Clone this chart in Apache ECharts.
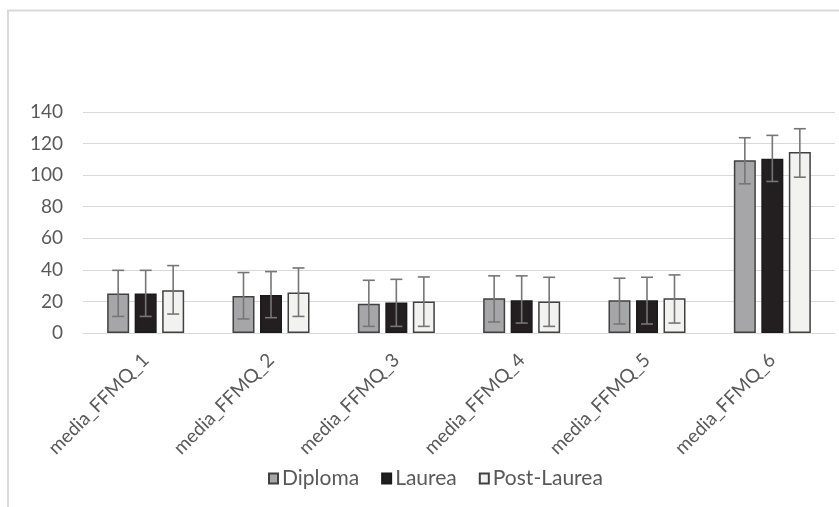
<!DOCTYPE html>
<html><head><meta charset="utf-8">
<script src="https://cdn.jsdelivr.net/npm/echarts@6/dist/echarts.min.js"></script>
<style>html,body{margin:0;padding:0;background:#fff}#c{width:839px;height:507px}</style>
</head><body><div id="c"></div>
<script>
const categories = ['media_FFMQ_1','media_FFMQ_2','media_FFMQ_3','media_FFMQ_4','media_FFMQ_5','media_FFMQ_6'];
const seriesNames = ['Diploma','Laurea','Post-Laurea'];
const diploma = [25.0, 23.5, 18.6, 22.0, 20.7, 109.5];
const laurea = [25.0, 24.1, 19.4, 20.7, 20.7, 110.4];
const postLaurea = [27.1, 25.6, 19.9, 19.9, 22.0, 114.6];
const diplomaErrLow = [10.5, 8.9, 4.2, 7.0, 5.7, 94.5];
const diplomaErrHigh = [39.7, 38.3, 33.4, 36.2, 34.7, 123.7];
const laureaErrLow = [10.5, 9.7, 4.2, 6.3, 5.7, 96.0];
const laureaErrHigh = [39.7, 38.9, 34.0, 36.2, 35.3, 125.2];
const postErrLow = [12.0, 10.5, 4.2, 4.2, 6.3, 98.7];
const postErrHigh = [42.7, 41.2, 35.5, 35.3, 36.8, 129.4];
const yTicks = [0, 20, 40, 60, 80, 100, 120, 140];

const values = [diploma, laurea, postLaurea];
const errLow = [diplomaErrLow, laureaErrLow, postErrLow];
const errHigh = [diplomaErrHigh, laureaErrHigh, postErrHigh];
const fills = ['#a6a6a8', '#231f20', '#f2f3f1'];
const borders = ['#404040', '#1a1a1a', '#404040'];
const BAR_W = 22, GAP = 0.25;
const FONT = 'Lato';

const chart = echarts.init(document.getElementById('c'), null, {renderer:'canvas'});
const series = [];
seriesNames.forEach((n, i) => {
  series.push({
    name: n, type: 'bar', data: values[i], barWidth: BAR_W, barGap: (GAP*100)+'%',
    itemStyle: {color: fills[i], borderColor: borders[i], borderWidth: 1.5},
    z: 2
  });
});
seriesNames.forEach((n, i) => {
  series.push({
    type: 'custom', z: 5, silent: true,
    data: categories.map((c, j) => [j, errLow[i][j], errHigh[i][j]]),
    encode: {x: 0, y: [1, 2]},
    renderItem: function (params, api) {
      const off = (i - 1) * BAR_W * (1 + GAP);
      const lo = api.coord([api.value(0), api.value(1)]);
      const hi = api.coord([api.value(0), api.value(2)]);
      const x = lo[0] + off, hw = 6;
      const st = {stroke: '#767676', lineWidth: 1.6};
      return {type: 'group', children: [
        {type: 'line', shape: {x1: x, y1: lo[1], x2: x, y2: hi[1]}, style: st},
        {type: 'line', shape: {x1: x - hw, y1: hi[1], x2: x + hw, y2: hi[1]}, style: st},
        {type: 'line', shape: {x1: x - hw, y1: lo[1], x2: x + hw, y2: lo[1]}, style: st}
      ]};
    }
  });
});

chart.setOption({
  animation: false,
  textStyle: {fontFamily: FONT},
  graphic: [{type: 'rect', shape: {x: 8, y: 10.5, width: 900, height: 600},
    style: {fill: 'none', stroke: '#d9d9d9', lineWidth: 2}, z: 0}],
  grid: {left: 83, right: 4, top: 112, bottom: 174, containLabel: false},
  legend: {
    data: seriesNames, bottom: 13, left: 263, itemWidth: 9, itemHeight: 10, itemGap: 22,
    icon: 'rect',
    textStyle: {color: '#595959', fontSize: 21, fontFamily: FONT, padding: [0,0,0,-1]}
  },
  xAxis: {
    type: 'category', data: categories,
    axisLine: {lineStyle: {color: '#d9d9d9', width: 1}},
    axisTick: {show: false},
    axisLabel: {rotate: 45, color: '#595959', fontSize: 19, margin: 24, interval: 0, fontFamily: FONT}
  },
  yAxis: {
    type: 'value', min: yTicks[0], max: yTicks[yTicks.length-1], interval: 20,
    axisLine: {show: false}, axisTick: {show: false},
    splitLine: {lineStyle: {color: '#d9d9d9', width: 1}},
    axisLabel: {color: '#595959', fontSize: 19, margin: 20, fontFamily: FONT}
  },
  series: series
});
</script></body></html>
